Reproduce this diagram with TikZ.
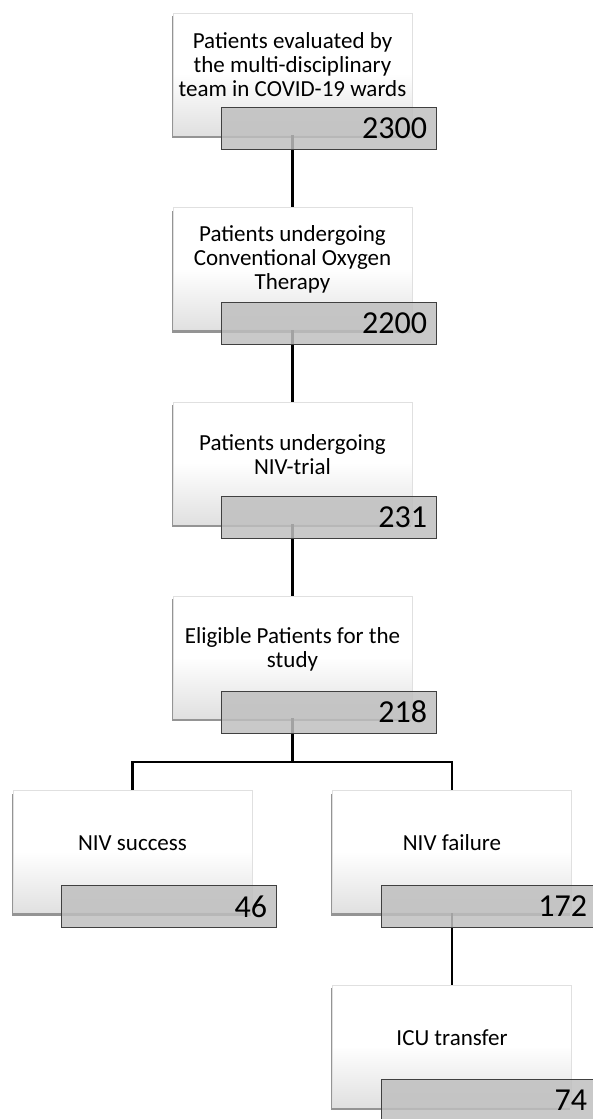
\documentclass[tikz,border=0pt]{standalone}
\usepackage{fontspec}
\setmainfont{Carlito}
\usetikzlibrary{shadows}

\tikzset{every picture/.style={line width=0.75pt}}

\begin{document}
\begin{tikzpicture}[x=1pt,y=1pt,yscale=-1,
  stagebox/.style={minimum width=239pt, minimum height=122pt, inner sep=0pt, draw=black!12, line width=0.5pt,
    top color=white, bottom color=black!12, middle color=white,
    drop shadow={shadow xshift=-1.5pt, shadow yshift=-3pt, opacity=0.6, fill=black!70}},
  stagetext/.style={align=center, inner sep=0pt, font=\fontsize{23}{24}\selectfont},
  countbox/.style={minimum height=42pt, inner xsep=9pt, inner ysep=0pt, text width=197pt, align=right,
    draw=black!75, fill=black!25, fill opacity=0.85, text opacity=1, font=\fontsize{32}{32}\selectfont},
  link/.style={line width=2.4pt}]
\useasboundingbox (0,0) rectangle (593,1119);

%Shape: Rectangle [stage 1]
\node[stagebox] (eval) at (292.5,74) {};
\node[stagetext] (eval-t) at (292.5,65) {Patients evaluated by\\the multi-disciplinary\\team in COVID-19 wards};
%Shape: Rectangle [stage 2]
\node[stagebox] (cot) at (292.5,268.5) {};
\node[stagetext] (cot-t) at (292.5,259.5) {Patients undergoing\\Conventional Oxygen\\Therapy};
%Shape: Rectangle [stage 3]
\node[stagebox] (niv) at (292.5,463) {};
\node[stagetext] (niv-t) at (292.5,454.5) {Patients undergoing\\NIV-trial};
%Shape: Rectangle [stage 4]
\node[stagebox] (elig) at (292.5,657) {};
\node[stagetext] (elig-t) at (292.5,649.5) {Eligible Patients for the\\study};
%Shape: Rectangle [success]
\node[stagebox] (succ) at (132.5,851.5) {};
\node[stagetext] (succ-t) at (132.5,843) {NIV success};
%Shape: Rectangle [failure]
\node[stagebox] (fail) at (452,851.5) {};
\node[stagetext] (fail-t) at (452,843) {NIV failure};
%Shape: Rectangle [icu]
\node[stagebox] (icu) at (452,1046) {};
\node[stagetext] (icu-t) at (452,1038) {ICU transfer};

%Straight Lines [links]
\draw[link] (eval.south) -- (cot.north);
\draw[link] (cot.south) -- (niv.north);
\draw[link] (niv.south) -- (elig.north);
\coordinate (split) at (292.5,762);
\draw[link] (elig.south) -- (split);
\draw[link] (split) -| (succ.north);
\draw[link] (split) -| (fail.north);
\draw[link] (fail.south) -- (icu.north);

%Shape: Rectangle [counts]
\node[countbox] (eval-n) at (328.5,128) {2300};
\node[countbox] (cot-n) at (328.5,323) {2200};
\node[countbox] (niv-n) at (328.5,517.5) {231};
\node[countbox] (elig-n) at (328.5,712) {218};
\node[countbox] (succ-n) at (168.5,906.5) {46};
\node[countbox] (fail-n) at (488.5,906.5) {172};
\node[countbox] (icu-n) at (488.5,1100.5) {74};

\end{tikzpicture}
\end{document}
